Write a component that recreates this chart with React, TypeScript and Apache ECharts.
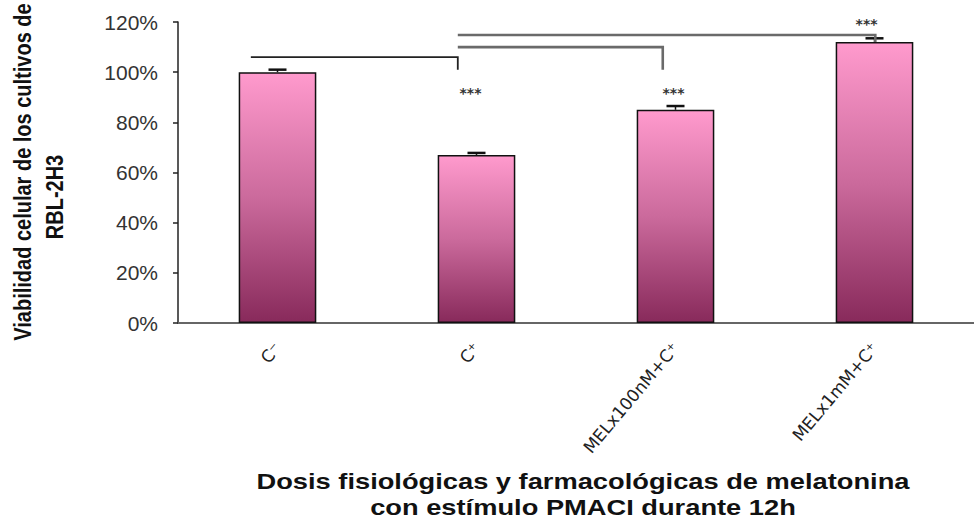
import React, { useEffect, useRef } from 'react';
import * as echarts from 'echarts';

// ---- data ----
const categories = ['C⁻', 'C⁺', 'MELx100nM+C⁺', 'MELx1mM+C⁺'];
const viability = [100, 67, 85, 112];
const viabilityError = [1, 0.8, 1.5, 1.5];
const yMin = 0;
const yMax = 120;
const yInterval = 20;

// significance brackets
const bracketFrom = [0, 1, 1];
const bracketTo = [1, 2, 3];
const bracketLevel = [106, 110, 114.8];
const bracketDropTo = [101, 101, 112];

// significance stars
const starCategory = [1, 2, 3];
const starLevel = [91.5, 91.5, 119.2];
const starText = ['***', '***', '***'];

// ---- styles (band-fraction offsets, colours) ----
const bracketFromOffset = [-0.134, -0.094, -0.094];
const bracketToOffset = [-0.094, -0.064, 0.004];
const bracketColor = ['#222', '#6a6a6a', '#6a6a6a'];
const bracketWidth = [1.8, 2.6, 2.6];
const starOffset = [-0.03, -0.01, -0.04];

export default function App() {
  const ref = useRef<HTMLDivElement>(null);

  useEffect(() => {
    if (!ref.current) return;
    const chart = echarts.init(ref.current, undefined, { renderer: 'svg' });

    const barGradient = new echarts.graphic.LinearGradient(0, 0, 0, 1, [
      { offset: 0, color: '#FF9ACD' },
      { offset: 0.5, color: '#CB6A9C' },
      { offset: 1, color: '#882A5B' },
    ]);

    const option: any = {
      animation: false,
      backgroundColor: '#ffffff',
      grid: { left: 178, top: 22, width: 808, height: 301, containLabel: false },
      xAxis: {
        type: 'category',
        data: categories,
        axisLine: { show: true, lineStyle: { color: '#666', width: 2 } },
        axisTick: { show: false },
        axisLabel: {
          interval: 0,
          rotate: 50,
          margin: 22,
          fontFamily: 'DejaVu Sans',
          fontSize: 17,
          color: '#222',
        },
        splitLine: { show: false },
      },
      yAxis: {
        type: 'value',
        min: yMin,
        max: yMax,
        interval: yInterval,
        axisLine: { show: true, lineStyle: { color: '#222', width: 1.5 } },
        axisTick: { show: true, inside: false, length: 5, lineStyle: { color: '#222', width: 1.5 } },
        axisLabel: {
          formatter: '{value}%',
          margin: 20,
          fontFamily: 'Liberation Sans',
          fontSize: 21,
          color: '#333',
        },
        splitLine: { show: false },
      },
      series: [
        {
          type: 'bar',
          data: viability,
          barWidth: '39%',
          itemStyle: { color: barGradient, borderColor: '#111', borderWidth: 1.5 },
          z: 2,
        },
        {
          type: 'custom',
          data: viability.map((v, i) => [i, v, viabilityError[i]]),
          encode: { x: 0, y: 1 },
          clip: false,
          z: 3,
          renderItem: (params: any, api: any) => {
            const i = api.value(0);
            const v = api.value(1);
            const e = api.value(2);
            const top = api.coord([i, v + e]);
            const base = api.coord([i, v]);
            return {
              type: 'group',
              children: [
                {
                  type: 'line',
                  shape: { x1: top[0], y1: base[1], x2: top[0], y2: top[1] },
                  style: { stroke: '#111', lineWidth: 1.5 },
                },
                {
                  type: 'line',
                  shape: { x1: top[0] - 9, y1: top[1], x2: top[0] + 9, y2: top[1] },
                  style: { stroke: '#111', lineWidth: 2.5 },
                },
              ],
            };
          },
        },
        {
          type: 'custom',
          data: bracketFrom.map((f, i) => [f, bracketTo[i], bracketLevel[i], bracketDropTo[i], i]),
          encode: { x: 0, y: 2 },
          clip: false,
          z: 4,
          renderItem: (params: any, api: any) => {
            const idx = api.value(4);
            const band = api.size([1, 0])[0];
            const a = api.coord([api.value(0), api.value(2)]);
            const b = api.coord([api.value(1), api.value(2)]);
            const d = api.coord([api.value(1), api.value(3)]);
            const x1 = a[0] + bracketFromOffset[idx] * band;
            const x2 = b[0] + bracketToOffset[idx] * band;
            return {
              type: 'polyline',
              shape: { points: [[x1, a[1]], [x2, a[1]], [x2, d[1]]] },
              style: { stroke: bracketColor[idx], lineWidth: bracketWidth[idx], fill: 'none' },
            };
          },
        },
        {
          type: 'custom',
          data: starCategory.map((c, i) => [c, starLevel[i], i]),
          encode: { x: 0, y: 1 },
          clip: false,
          z: 5,
          renderItem: (params: any, api: any) => {
            const idx = api.value(2);
            const band = api.size([1, 0])[0];
            const p = api.coord([api.value(0), api.value(1)]);
            return {
              type: 'text',
              x: p[0] + starOffset[idx] * band,
              y: p[1],
              style: {
                text: starText[idx],
                font: 'bold 14px "DejaVu Sans"',
                fill: '#333',
                align: 'center',
                verticalAlign: 'middle',
              },
            };
          },
        },
      ],
      graphic: [
        {
          type: 'text',
          x: 23,
          y: 172,
          rotation: Math.PI / 2,
          scaleY: 1.24,
          style: {
            text: 'Viabilidad celular de los cultivos de',
            font: 'bold 20px "Liberation Sans"',
            fill: '#111',
            align: 'center',
            verticalAlign: 'middle',
          },
        },
        {
          type: 'text',
          x: 55,
          y: 197,
          rotation: Math.PI / 2,
          scaleY: 1.24,
          style: {
            text: 'RBL-2H3',
            font: 'bold 20px "Liberation Sans"',
            fill: '#111',
            align: 'center',
            verticalAlign: 'middle',
          },
        },
        {
          type: 'text',
          x: 583,
          y: 494,
          scaleX: 1.24,
          style: {
            text: 'Dosis fisiológicas y farmacológicas de melatonina\ncon estímulo PMACI durante 12h',
            font: 'bold 22px "Liberation Sans"',
            lineHeight: 26,
            fill: '#111',
            align: 'center',
            verticalAlign: 'middle',
          },
        },
      ],
    };

    chart.setOption(option);
    return () => chart.dispose();
  }, []);

  return (
    <div
      ref={ref}
      style={{ position: 'fixed', left: 0, top: 0, width: 974, height: 521, background: '#fff' }}
    />
  );
}
